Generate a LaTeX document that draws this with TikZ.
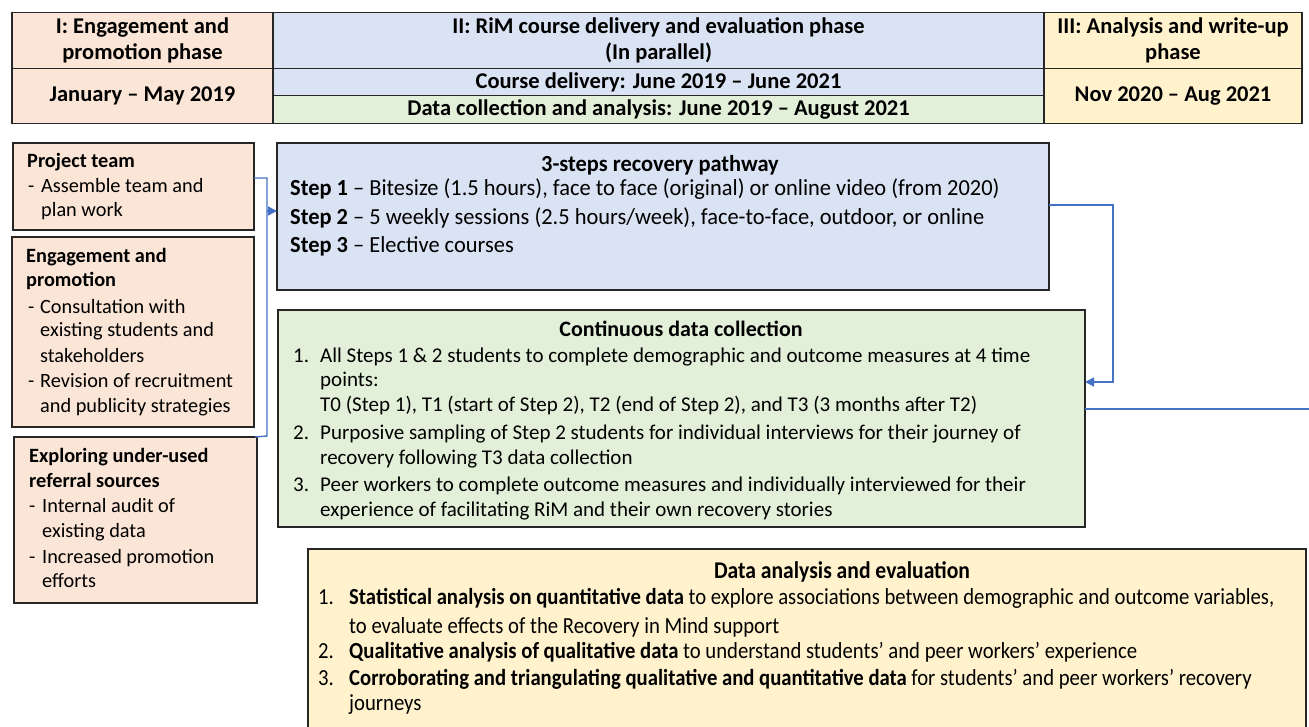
\documentclass[tikz,border=0pt]{standalone}
\usepackage{fontspec}
\setmainfont{Carlito}
\newfontfamily\fB[FakeStretch=0.975]{Carlito}
\newfontfamily\fG[FakeStretch=1.0]{Carlito}
\newfontfamily\fY[FakeStretch=0.9]{Carlito}
\usetikzlibrary{arrows.meta,calc}
\definecolor{peach}{HTML}{FBE5D6}
\definecolor{lblue}{HTML}{DAE3F3}
\definecolor{lgreen}{HTML}{E2F0D9}
\definecolor{lyellow}{HTML}{FFF2CC}
\definecolor{linkblue}{HTML}{4472C4}
\definecolor{boxline}{HTML}{262626}
\begin{document}
\begin{tikzpicture}[x=1pt,y=-1pt,
  box/.style={draw=boxline, line width=1.4pt, rectangle, inner sep=0, outer sep=0, anchor=north west},
  cell/.style={box, align=center, font=\fontsize{22.5}{26}\selectfont\bfseries},
  conn/.style={draw=linkblue, line width=1.4pt},
  arr/.style={conn, -{Triangle[length=9pt,width=9pt]}},
  ln/.style={anchor=base west, inner sep=0, font=\fontsize{20.3}{24}\selectfont},
  lnB/.style={anchor=base west, inner sep=0, font=\fontsize{23}{27}\fB},
  lnG/.style={anchor=base west, inner sep=0, font=\fontsize{21}{25}\fG},
  lnY/.style={anchor=base west, inner sep=0, font=\fontsize{23}{27}\fY},
  ttl/.style={anchor=base, inner sep=0}]
\useasboundingbox (0,0) rectangle (1309,727);
\clip (0,0) rectangle (1309,727);
\fill[white] (0,0) rectangle (1309,727);

% header table
\node[cell, fill=peach, minimum width=261, minimum height=55.6] (h1a) at (12,12.7) {I: Engagement and\\promotion phase};
\node[cell, fill=lblue, minimum width=771, minimum height=55.6] (h2a) at (273,12.7) {II: RiM course delivery and evaluation phase\\(In parallel)};
\node[cell, fill=lyellow, minimum width=258, minimum height=55.6] (h3a) at (1044,12.7) {III: Analysis and write-up\\phase};
\node[cell, fill=peach, minimum width=261, minimum height=55] (h1b) at (12,68.3) {January – May 2019};
\node[cell, fill=lblue, minimum width=771, minimum height=27.4] (h2b) at (273,68.3) {Course delivery: June 2019 – June 2021};
\node[cell, fill=lgreen, minimum width=771, minimum height=27.6] (h2c) at (273,95.7) {Data collection and analysis: June 2019 – August 2021};
\node[cell, fill=lyellow, minimum width=258, minimum height=55] (h3b) at (1044,68.3) {Nov 2020 – Aug 2021};

% left boxes
\node[box, fill=peach, minimum width=241, minimum height=87] (ptbox) at (13,143) {};
\node[ln] (pt1) at (27,168) {\bfseries Project team};
\node[ln] (pt2) at (28,193) {\makebox[13pt][l]{-}Assemble team and};
\node[ln] (pt3) at (41,217) {plan work};

\node[box, fill=peach, minimum width=242, minimum height=190] (epbox) at (12,237) {};
\node[ln] (ep1) at (26,263) {\bfseries Engagement and};
\node[ln] (ep2) at (26,287) {\bfseries promotion};
\node[ln] (ep3) at (28,313) {\makebox[12pt][l]{-}Consultation with};
\node[ln] (ep4) at (40,337) {existing students and};
\node[ln] (ep5) at (40,362) {stakeholders};
\node[ln] (ep6) at (28,387) {\makebox[12pt][l]{-}Revision of recruitment};
\node[ln] (ep7) at (40,412) {and publicity strategies};

\node[box, fill=peach, minimum width=243, minimum height=166] (exbox) at (14,437) {};
\node[ln] (ex1) at (29,462) {\bfseries Exploring under-used};
\node[ln] (ex2) at (29,487) {\bfseries referral sources};
\node[ln] (ex3) at (29,512) {\makebox[13pt][l]{-}Internal audit of};
\node[ln] (ex4) at (42,537) {existing data};
\node[ln] (ex5) at (29,563) {\makebox[13pt][l]{-}Increased promotion};
\node[ln] (ex6) at (42,587) {efforts};

% blue box
\node[box, fill=lblue, minimum width=772, minimum height=147] (bluebox) at (277,143) {};
\node[ttl, font=\fontsize{23}{27}\fB\bfseries] (bt) at (660,172) {3-steps recovery pathway};
\node[lnB] (b1) at (290,196) {\textbf{Step 1} – Bitesize (1.5 hours), face to face (original) or online video (from 2020)};
\node[lnB] (b2) at (290,225) {\textbf{Step 2} – 5 weekly sessions (2.5 hours/week), face-to-face, outdoor, or online};
\node[lnB] (b3) at (290,253) {\textbf{Step 3} – Elective courses};

% green box
\node[box, fill=lgreen, minimum width=807, minimum height=217] (greenbox) at (278,310) {};
\node[ttl, font=\fontsize{22}{25}\fG\bfseries] (gt) at (681,337) {Continuous data collection};
\node[lnG] (g1n) at (293,362) {1.};
\node[lnG] (g1) at (320,362) {All Steps 1 \& 2 students to complete demographic and outcome measures at 4 time};
\node[lnG] (g1b) at (320,386) {points:};
\node[lnG] (g1c) at (320,411) {T0 (Step 1), T1 (start of Step 2), T2 (end of Step 2), and T3 (3 months after T2)};
\node[lnG] (g2n) at (293,439) {2.};
\node[lnG] (g2) at (320,439) {Purposive sampling of Step 2 students for individual interviews for their journey of};
\node[lnG] (g2b) at (320,464) {recovery following T3 data collection};
\node[lnG] (g3n) at (293,491) {3.};
\node[lnG] (g3) at (320,491) {Peer workers to complete outcome measures and individually interviewed for their};
\node[lnG] (g3b) at (320,516) {experience of facilitating RiM and their own recovery stories};

% yellow box
\node[box, fill=lyellow, minimum width=998, minimum height=200] (ybox) at (308,549) {};
\node[ttl, font=\fontsize{24}{27}\fY\bfseries] (yt) at (842,578) {Data analysis and evaluation};
\node[lnY] (y1n) at (318,604) {1.};
\node[lnY] (y1) at (349,604) {\textbf{Statistical analysis on quantitative data} to explore associations between demographic and outcome variables,};
\node[lnY] (y1b) at (349,633) {to evaluate effects of the Recovery in Mind support};
\node[lnY] (y2n) at (318,658) {2.};
\node[lnY] (y2) at (349,658) {\textbf{Qualitative analysis of qualitative data} to understand students’ and peer workers’ experience};
\node[lnY] (y3n) at (318,685) {3.};
\node[lnY] (y3) at (349,685) {\textbf{Corroborating and triangulating qualitative and quantitative data} for students’ and peer workers’ recovery};
\node[lnY] (y3b) at (349,710) {journeys};

% connectors
\coordinate (bkx) at (267,436);
\coordinate (bka) at (267,211);
\draw[conn] ([yshift=8.5pt]ptbox.east) -| (bkx) -- ([xshift=-2pt]exbox.north east);
\draw[arr] (bka) -- ([yshift=5.5pt]bluebox.west);
\coordinate (rc) at (1113,382);
\draw[arr] ([yshift=11.5pt]bluebox.east) -| (rc) -- ([yshift=36.5pt]greenbox.east);
\coordinate (redge) at (1309,409);
\draw[conn] ([yshift=9.5pt]greenbox.east) -- (redge);
\end{tikzpicture}
\end{document}
